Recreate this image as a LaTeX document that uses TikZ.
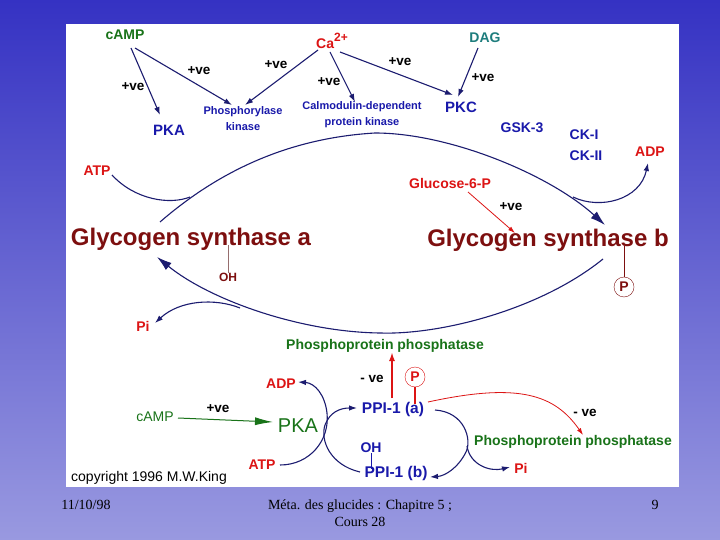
\documentclass[tikz,border=0pt]{standalone}
\usepackage{fontspec}
\setmainfont{Liberation Sans}
\newfontfamily\timesf{Liberation Serif}
\usetikzlibrary{arrows.meta}
\definecolor{bgtop}{RGB}{53,50,195}
\definecolor{bgbot}{RGB}{153,153,224}
\definecolor{navy}{RGB}{28,28,112}
\definecolor{lblue}{RGB}{25,25,170}
\definecolor{lred}{RGB}{220,20,20}
\definecolor{dgreen}{RGB}{25,115,25}
\definecolor{teal2}{RGB}{30,125,125}
\definecolor{gsred}{RGB}{125,15,15}
\definecolor{ohline}{RGB}{150,110,110}
\begin{document}
\begin{tikzpicture}[x=1pt,y=-1pt,
  lbl/.style={inner sep=0pt,font=\fontsize{14}{16}\selectfont\bfseries},
  small/.style={inner sep=0pt,align=center,text=lblue,font=\fontsize{11}{16}\selectfont\bfseries},
  big/.style={inner sep=0pt,text=gsred,font=\fontsize{24}{28}\selectfont\bfseries},
  ve/.style={lbl,text=black,font=\fontsize{13.5}{16}\selectfont\bfseries},
  circP/.style={circle,draw,inner sep=0pt,minimum size=20pt,font=\fontsize{14}{16}\selectfont\bfseries},
  foot/.style={inner sep=0pt,align=center,text=black,font=\timesf\fontsize{14}{17}\selectfont},
  conn/.style={draw=navy,line width=1.1pt},
  arr/.style={conn,-{Latex[length=8pt,width=5.5pt]}},
  bigarr/.style={conn,-{Latex[length=15pt,width=9pt]}},
  redarr/.style={draw=lred,line width=0.8pt,-{Latex[length=7pt,width=4.5pt]}}
]
\useasboundingbox (0,0) rectangle (720,540);
\shade[top color=bgtop,bottom color=bgbot] (0,0) rectangle (720,540);
\fill[white] (66,24) rectangle (679,487);

% ---- top labels
\node[lbl,text=dgreen] (camp1) at (125,35) {cAMP};
\node[lbl,text=lred] (ca) at (332,41) {Ca\raisebox{7pt}{\fontsize{12}{12}\selectfont 2+}};
\node[lbl,text=teal2] (dag) at (485,38) {DAG};
\node[ve] (pv1) at (133,87) {+ve};
\node[ve] (pv2) at (199,71) {+ve};
\node[ve] (pv3) at (276,65) {+ve};
\node[ve] (pv4) at (329,82) {+ve};
\node[ve] (pv5) at (400,62) {+ve};
\node[ve] (pv6) at (483,78) {+ve};
\node[lbl,text=lblue,font=\fontsize{15}{16}\selectfont\bfseries] (pka1) at (169,130) {PKA};
\node[small] (phk) at (243,119) {Phosphorylase\\kinase};
\node[small] (camk) at (362,115) {Calmodulin-dependent\\protein kinase};
\node[lbl,text=lblue,font=\fontsize{15}{16}\selectfont\bfseries] (pkc) at (461,107) {PKC};
\node[lbl,text=lblue] (gsk) at (522,128) {GSK-3};
\node[lbl,text=lblue,align=left,font=\fontsize{14}{21}\selectfont\bfseries] (ck) at (586,145) {CK-I\\CK-II};
\node[lbl,text=lred] (adp1) at (650,152) {ADP};
\node[lbl,text=lred] (atp1) at (97,171) {ATP};
\node[lbl,text=lred] (g6p) at (450,183) {Glucose-6-P};
\node[ve] (pv7) at (511,207) {+ve};
\node[big] (gsa) at (191,239) {Glycogen synthase a};
\node[big] (gsb) at (548,240) {Glycogen synthase b};
\node[lbl,text=gsred,font=\fontsize{12}{14}\selectfont\bfseries] (oh1) at (228,277) {OH};
\node[circP,text=gsred,draw=gsred] (p1) at (624,287) {P};
\node[lbl,text=lred] (pi1) at (143,326) {Pi};

% ---- bottom labels
\node[lbl,text=dgreen] (ppp1) at (385,346) {Phosphoprotein phosphatase};
\node[lbl,text=lred] (adp2) at (281,384) {ADP};
\node[ve] (mve1) at (372,379) {- ve};
\node[circP,text=lred,draw=lred] (p2) at (415,377) {P};
\node[inner sep=0pt,text=dgreen,font=\fontsize{14}{16}\selectfont] (camp2) at (155,417) {cAMP};
\node[ve] (pv8) at (218,409) {+ve};
\node[inner sep=0pt,text=dgreen,font=\fontsize{20}{22}\selectfont] (pka2) at (298,426) {PKA};
\node[lbl,text=lblue,font=\fontsize{15.5}{17}\selectfont\bfseries] (ppia) at (393,409) {PPI-1 (a)};
\node[ve] (mve2) at (585,413) {- ve};
\node[lbl,text=lblue] (oh2) at (371,448) {OH};
\node[lbl,text=dgreen] (ppp2) at (573,442) {Phosphoprotein phosphatase};
\node[lbl,text=lred] (atp2) at (262,465) {ATP};
\node[lbl,text=lblue,font=\fontsize{15.5}{17}\selectfont\bfseries] (ppib) at (396,473) {PPI-1 (b)};
\node[lbl,text=lred] (pi2) at (521,468) {Pi};
\node[inner sep=0pt,text=black,font=\fontsize{14}{16}\selectfont] (copy) at (149,478) {copyright 1996 M.W.King};

% ---- footer
\node[foot] (date) at (86,505) {11/10/98};
\node[foot] (title) at (360,513) {Méta. des glucides : Chapitre 5 ;\\Cours 28};
\node[foot] (page) at (655,505) {9};

% ---- top straight arrows
\draw[arr] ([shift={(6,13)}]camp1.center) -- ([shift={(-9,-15)}]pka1.center);
\draw[arr] ([shift={(10,13)}]camp1.center) -- ([shift={(-11,-14)}]phk.center);
\draw[arr] ([shift={(-14,9)}]ca.center) -- ([shift={(2,-14)}]phk.center);
\draw[arr] ([shift={(-2,11)}]ca.center) -- ([shift={(-7,-13)}]camk.center);
\draw[arr] ([shift={(8,11)}]ca.center) -- ([shift={(-8,-12)}]pkc.center);
\draw[arr] ([shift={(-7,10)}]dag.center) -- ([shift={(-3,-10)}]pkc.center);

% ---- upper arc (a -> b)
\coordinate (j1) at (190,197);
\coordinate (j2) at (573,197);
\draw[bigarr] ([shift={(-31,-17)}]gsa.center) .. controls (220,170) and (290,138) .. (375,133)
   .. controls (450,133) and (550,175) .. ([shift={(57,-15)}]gsb.center);
\draw[conn] ([shift={(15,4)}]atp1.center) .. controls (135,200) and (170,205) .. (j1);
\draw[arr] (j2) .. controls (600,210) and (640,200) .. ([shift={(-2,11)}]adp1.center);

% ---- lower arc (b -> a)
\coordinate (j3) at (240,308);
\draw[bigarr] ([shift={(55,19)}]gsb.center) .. controls (540,310) and (440,335) .. (380,333)
   .. controls (300,332) and (210,300) .. ([shift={(-34,18)}]gsa.center);
\draw[arr] (j3) .. controls (215,298) and (180,300) .. ([shift={(12,-3)}]pi1.center);

% ---- Glucose-6-P
\draw[redarr] ([shift={(18,9)}]g6p.center) -- ([shift={(-33,-7)}]gsb.center);

% ---- stems
\draw[ohline,line width=1pt] (oh1.north) -- (oh1.north |- gsa.base);
\draw[gsred,line width=1pt] (p1.north) -- (p1.north |- gsb.base);
\draw[lred,line width=1.2pt] (p2.south) -- ([yshift=-2pt]p2.south |- ppia.north);
\draw[lblue,line width=1pt] (oh2.south) -- ([yshift=-3pt]oh2.south |- ppib.north);

% ---- bottom cycle
\draw[draw=lred,line width=2pt,-{Latex[length=9pt,width=6pt]}] ([shift={(-1,-11)}]ppia.center) -- ([shift={(7,6)}]ppp1.center);
\draw[redarr] ([shift={(35,-7)}]ppia.center) .. controls (520,382) and (555,395) .. ([shift={(10,-7)}]ppp2.center);
\draw[draw=dgreen,line width=1pt,-{Latex[length=18pt,width=8pt]}] ([shift={(23,1)}]camp2.center) -- ([shift={(-25,-4)}]pka2.center);
\draw[arr] ([shift={(18,0)}]atp2.center) .. controls (310,465) and (330,440) .. (327,413)
   .. controls (325,395) and (315,383) .. ([shift={(17,-2)}]adp2.center);
\draw[arr] ([shift={(-36,-1)}]ppib.center) .. controls (330,465) and (320,440) .. (325,425)
   .. controls (330,412) and (340,408) .. ([shift={(-36,-1)}]ppia.center);
\coordinate (j4) at (467,446);
\draw[arr] ([shift={(42,1)}]ppia.center) .. controls (465,412) and (472,440) .. (466,452)
   .. controls (458,468) and (445,476) .. ([shift={(34,4)}]ppib.center);
\draw[arr] (j4) .. controls (470,465) and (490,472) .. ([shift={(-11,-1)}]pi2.center);
\end{tikzpicture}
\end{document}
